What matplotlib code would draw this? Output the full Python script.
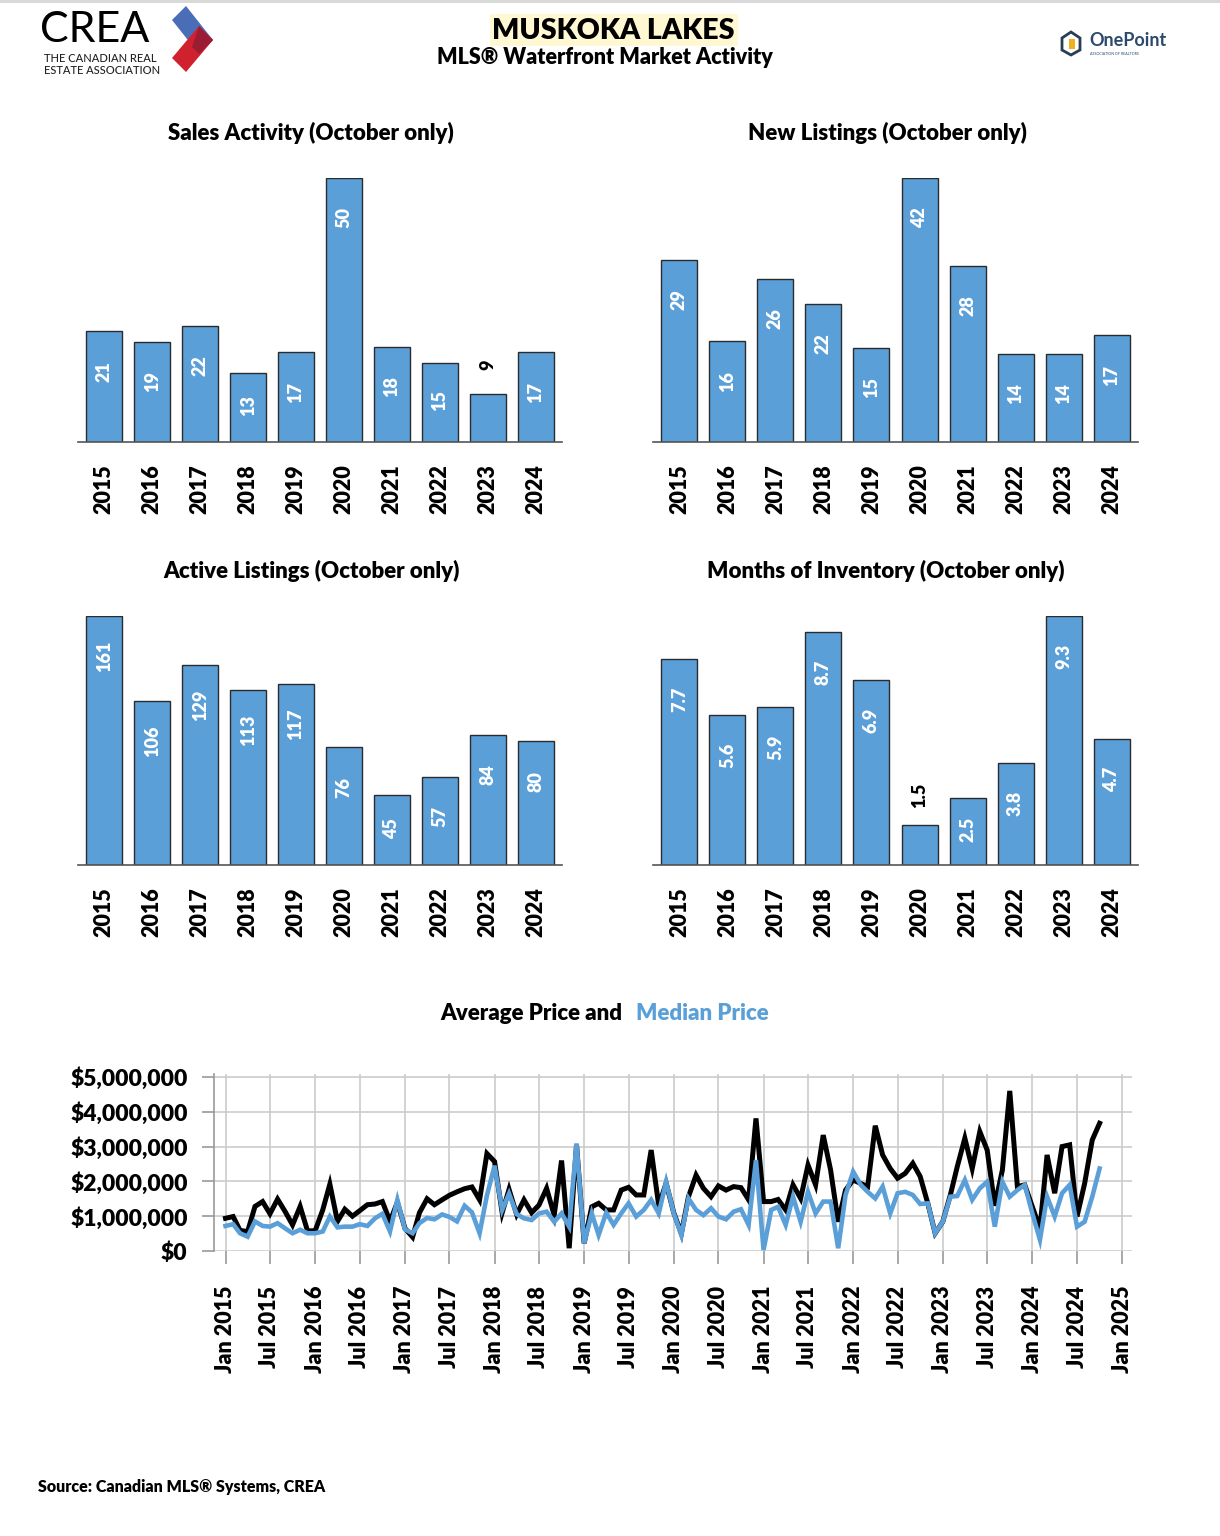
import matplotlib
matplotlib.use("Agg")
import matplotlib.pyplot as plt
from matplotlib.patches import Polygon, Rectangle
import numpy as np
import pandas as pd

plt.rcParams['font.family'] = ['Lato', 'DejaVu Sans']

# ---------------- data ----------------
years = ['2015', '2016', '2017', '2018', '2019', '2020', '2021', '2022', '2023', '2024']
sales = [21, 19, 22, 13, 17, 50, 18, 15, 9, 17]
new_listings = [29, 16, 26, 22, 15, 42, 28, 14, 14, 17]
active_listings = [161, 106, 129, 113, 117, 76, 45, 57, 84, 80]
months_inventory = [7.7, 5.6, 5.9, 8.7, 6.9, 1.5, 2.5, 3.8, 9.3, 4.7]

# monthly prices Jan 2015 .. Oct 2024 (millions of dollars)
avg_price_m = [
    0.94, 0.99, 0.59, 0.56, 1.28, 1.42, 1.07, 1.49, 1.13, 0.75, 1.28, 0.58,
    0.58, 1.18, 1.92, 0.85, 1.20, 1.00, 1.16, 1.33, 1.35, 1.42, 0.85, 1.40,
    0.65, 0.40, 1.10, 1.50, 1.33, 1.47, 1.60, 1.70, 1.79, 1.84, 1.47, 2.80,
    2.57, 1.10, 1.77, 1.05, 1.47, 1.10, 1.32, 1.80, 1.03, 2.60, 0.08, 3.05,
    0.22, 1.27, 1.37, 1.18, 1.18, 1.75, 1.83, 1.61, 1.61, 2.90, 1.30, 1.95,
    1.10, 0.50, 1.56, 2.18, 1.80, 1.56, 1.87, 1.75, 1.85, 1.82, 1.47, 3.81,
    1.42, 1.42, 1.48, 1.18, 1.90, 1.51, 2.47, 1.90, 3.33, 2.33, 0.84, 1.75,
    2.04, 1.94, 1.85, 3.60, 2.76, 2.37, 2.09, 2.23, 2.52, 2.14, 1.37, 0.51,
    0.84, 1.61, 2.42, 3.24, 2.37, 3.43, 2.90, 1.30, 2.33, 4.60, 1.85, 1.90,
    1.27, 0.65, 2.76, 1.66, 3.00, 3.05, 0.99, 1.94, 3.19, 3.67,
]
median_price_m = [
    0.72, 0.77, 0.51, 0.41, 0.85, 0.72, 0.70, 0.80, 0.65, 0.51, 0.61, 0.51,
    0.51, 0.56, 0.99, 0.68, 0.70, 0.70, 0.77, 0.72, 0.94, 1.07, 0.56, 1.47,
    0.62, 0.51, 0.80, 0.95, 0.91, 1.05, 0.98, 0.85, 1.30, 1.11, 0.51, 1.60,
    2.45, 1.18, 1.65, 1.06, 0.94, 0.89, 1.08, 1.13, 0.84, 1.08, 0.70, 3.09,
    0.22, 1.08, 0.46, 1.10, 0.75, 1.08, 1.37, 0.99, 1.18, 1.47, 1.08, 1.99,
    1.08, 0.46, 1.51, 1.18, 1.03, 1.23, 0.99, 0.91, 1.13, 1.20, 0.75, 2.61,
    0.03, 1.18, 1.27, 0.75, 1.56, 0.84, 1.70, 1.08, 1.42, 1.42, 0.08, 1.61,
    2.28, 1.90, 1.70, 1.51, 1.85, 1.08, 1.66, 1.70, 1.61, 1.35, 1.37, 0.51,
    0.84, 1.56, 1.58, 2.04, 1.47, 1.80, 1.99, 0.70, 1.99, 1.56, 1.75, 1.90,
    1.08, 0.32, 1.56, 0.99, 1.66, 1.90, 0.70, 0.84, 1.56, 2.37,
]
price_dates = pd.date_range('2015-01-01', periods=len(avg_price_m), freq='MS')
avg_price = np.array(avg_price_m) * 1e6
median_price = np.array(median_price_m) * 1e6

# ---------------- style ----------------
W, H = 1220, 1536
BAR_COLOR = '#5B9FD9'
BLUE_TXT = '#5B9FD9'
BOLD = 'heavy'

fig = plt.figure(figsize=(W / 100, H / 100), dpi=100)
fig.patch.set_facecolor('white')

# overlay axes in pixel coordinates for header / footer decorations
deco = fig.add_axes([0, 0, 1, 1], zorder=0)
deco.set_xlim(0, W)
deco.set_ylim(H, 0)
deco.axis('off')
deco.patch.set_alpha(0)

deco.add_patch(Rectangle((0, 0), W, 3, color='#d9d9d9', lw=0))
# CREA logo
deco.text(40, 30, 'CREA', fontsize=31, color='black', va='center', ha='left', fontweight='normal')
deco.text(44, 58, 'THE CANADIAN REAL', fontsize=8, color='#222222', va='center', ha='left', fontweight='medium')
deco.text(44, 71, 'ESTATE ASSOCIATION', fontsize=8, color='#222222', va='center', ha='left', fontweight='medium')
deco.add_patch(Polygon([(172, 20), (186, 6), (213, 40), (199, 54)], closed=True, color='#4A6DB8', lw=0))
deco.add_patch(Polygon([(199, 26), (213, 40), (186, 72), (172, 58)], closed=True, color='#D0222E', lw=0))
deco.add_patch(Polygon([(199, 26), (213, 40), (199, 54), (192, 47)], closed=True, color='#9C1C33', lw=0))

# title
deco.add_patch(Rectangle((490, 14), 248, 32, color='#FFF8D2', lw=0))
deco.text(613, 31, 'MUSKOKA LAKES', fontsize=20.5, fontweight=BOLD, ha='center', va='center')
deco.text(605, 58, 'MLS® Waterfront Market Activity', fontsize=15.5, fontweight=BOLD, ha='center', va='center')

# OnePoint logo
deco.add_patch(Polygon([(1062, 38), (1071, 32), (1080, 38), (1080, 50), (1071, 55), (1062, 50)],
                       closed=True, facecolor='none', edgecolor='#2a3d55', lw=2))
deco.add_patch(Rectangle((1069, 39), 6, 10, color='#F2B01E', lw=0))
deco.text(1089, 41, 'OnePoint', fontsize=13, fontweight='bold', color='#2B4A6B', ha='left', va='center')
deco.text(1090, 54, 'ASSOCIATION OF REALTORS', fontsize=2.6, color='#2B4A6B', ha='left', va='center')

# footer
deco.text(38, 1487, 'Source: Canadian MLS® Systems, CREA', fontsize=11.5, fontweight=BOLD, ha='left', va='center')


def bar_panel(rect, values, title, title_xy, fmt):
    ax = fig.add_axes(rect, zorder=2)
    x = np.arange(len(values))
    ax.bar(x, values, width=0.75, color=BAR_COLOR, edgecolor='#2b2b2b', linewidth=1.0)
    ax.set_xlim(-0.55, len(values) - 0.45)
    vmax = max(values)
    ax.set_ylim(0, vmax)
    ax.set_xticks(x)
    ax.set_xticklabels(years, rotation=90, fontsize=15.5, fontweight=BOLD)
    ax.tick_params(axis='x', length=0, pad=16)
    ax.set_yticks([])
    for s in ['top', 'right', 'left']:
        ax.spines[s].set_visible(False)
    ax.spines['bottom'].set_color('#555555')
    ax.spines['bottom'].set_linewidth(1.2)
    ax.patch.set_alpha(0)
    ax_h_px = rect[3] * H
    for xi, v in zip(x, values):
        h_px = v / vmax * ax_h_px
        label = fmt(v)
        if h_px < 50:
            ax.annotate(label, xy=(xi, v), xytext=(0, 30 / 1.389), textcoords='offset points',
                        rotation=90, ha='center', va='center', fontsize=13, fontweight=BOLD,
                        color='black', annotation_clip=False)
        else:
            off = min(40.0, h_px * 0.47)
            ax.annotate(label, xy=(xi, v), xytext=(0, -off / 1.389), textcoords='offset points',
                        rotation=90, ha='center', va='center', fontsize=13, fontweight=BOLD,
                        color='white')
    deco.text(title_xy[0], title_xy[1], title, fontsize=16, fontweight=BOLD, ha='center', va='center')
    return ax


int_fmt = lambda v: f'{v:d}'
dec_fmt = lambda v: f'{v:.1f}'

bar_panel([78 / W, 1 - 442 / H, 484 / W, 264 / H], sales, 'Sales Activity (October only)', (311, 133), int_fmt)
bar_panel([653 / W, 1 - 442 / H, 485 / W, 264 / H], new_listings, 'New Listings (October only)', (887, 133), int_fmt)
bar_panel([78 / W, 1 - 865 / H, 484 / W, 249 / H], active_listings, 'Active Listings (October only)', (311, 571), int_fmt)
bar_panel([653 / W, 1 - 865 / H, 485 / W, 249 / H], months_inventory, 'Months of Inventory (October only)', (886, 571), dec_fmt)

# ---------------- price line chart ----------------
axl = fig.add_axes([214 / W, 1 - 1251 / H, (1132 - 214) / W, (1251 - 1073.5) / H], zorder=2)
axl.plot(price_dates, avg_price, color='black', lw=3.6, solid_joinstyle='miter', zorder=3)
axl.plot(price_dates, median_price, color='#5B9FD9', lw=3.3, solid_joinstyle='miter', zorder=4)
axl.set_ylim(0, 5.1e6)
axl.set_xlim(pd.Timestamp('2014-11-15'), pd.Timestamp('2025-02-10'))
axl.set_yticks(np.arange(0, 5.01e6, 1e6))
axl.yaxis.set_major_formatter(matplotlib.ticker.FuncFormatter(lambda v, p: f'${v:,.0f}'))
tick_dates = pd.date_range('2015-01-01', '2025-01-01', freq='6MS')
axl.set_xticks(tick_dates)
axl.set_xticklabels([d.strftime('%b %Y') for d in tick_dates], rotation=90, fontsize=15.5, fontweight=BOLD)
for lab in axl.get_yticklabels():
    lab.set_fontweight(BOLD)
    lab.set_fontsize(16.5)
axl.grid(True, color='#cccccc', lw=1.2)
axl.set_axisbelow(True)
axl.tick_params(axis='both', direction='out', color='#999999', length=9, width=1.2)
axl.tick_params(axis='y', pad=10)
axl.tick_params(axis='x', pad=16, length=9)
for s in ['top', 'right', 'bottom']:
    axl.spines[s].set_visible(False)
axl.spines['left'].set_color('#999999')
axl.spines['left'].set_linewidth(1.2)
axl.patch.set_alpha(0)

deco.text(627, 1013, 'Average Price and ', fontsize=16, fontweight=BOLD, ha='right', va='center')
deco.text(636, 1013, 'Median Price', fontsize=16, fontweight=BOLD, ha='left', va='center', color=BLUE_TXT)

fig.savefig('out.png', dpi=100, facecolor='white')
